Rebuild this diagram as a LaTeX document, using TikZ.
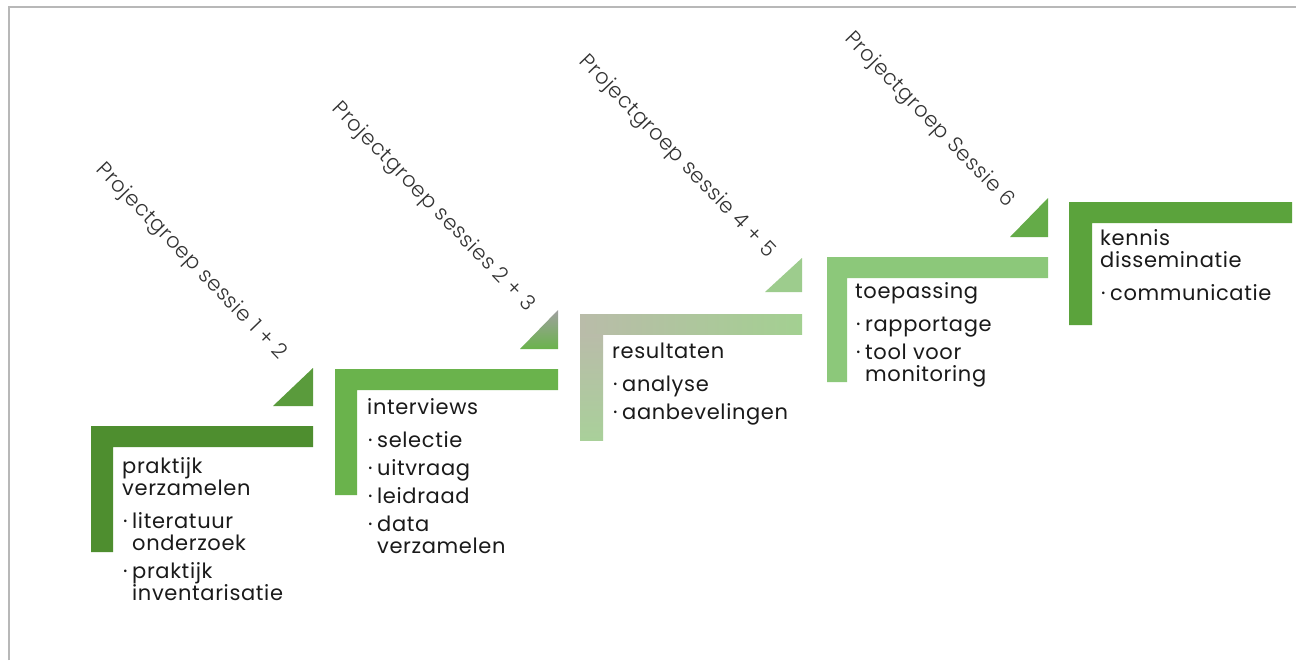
\documentclass[tikz,border=0pt]{standalone}
\usepackage{fontspec}
\setmainfont{Poppins}[LetterSpace=3]
\newfontfamily\lblfont{Poppins Light}[LetterSpace=3]
\definecolor{framegray}{HTML}{B8B8B8}
\definecolor{gA}{HTML}{4E8E2F}
\definecolor{tA}{HTML}{5A9B3C}
\definecolor{gB}{HTML}{6AB34C}
\definecolor{tBtop}{HTML}{A0A0A0}
\definecolor{gCl}{HTML}{B9BCA9}
\definecolor{gCr}{HTML}{A3D091}
\definecolor{gCv}{HTML}{A9D09A}
\definecolor{tC}{HTML}{9DCC8D}
\definecolor{gD}{HTML}{8CC87A}
\definecolor{tD}{HTML}{64AB48}
\definecolor{gE}{HTML}{5BA33C}
\definecolor{txt}{HTML}{1A1A1A}
\definecolor{lbltxt}{HTML}{333333}
\newcommand\bhead[1]{\hbox{#1}}
\newcommand\bgap{\vskip 5pt}
\newcommand\bitem[1]{\vskip 6pt\hbox{\makebox[10pt][l]{\kern1pt·}#1}}
\newcommand\bcont[1]{\hbox{\kern10pt #1}}
\tikzset{
  blocktext/.style={anchor=base west, inner sep=0pt, text=txt,
    font=\fontsize{21}{22}\selectfont},
  lbl/.style={inner sep=0pt, text=lbltxt, rotate=-46,
    font=\lblfont\fontsize{21}{22}\selectfont}
}
\begin{document}
\begin{tikzpicture}[x=1pt,y=-1pt]
\useasboundingbox (0,0) rectangle (1301,667);
\fill[white] (0,0) rectangle (1301,667);
\draw[framegray, line width=2pt] (9,660) -- (9,7) -- (1296,7);

% block 1
\fill[gA] (91,426) -- (313,426) -- (313,447) -- (113,447) -- (113,552) -- (91,552) -- cycle;
\fill[tA] (273,406) -- (313,406) -- (313,368) -- cycle;
% block 2
\fill[gB] (335,369) -- (558,369) -- (558,390) -- (357,390) -- (357,495) -- (335,495) -- cycle;
\shade[top color=tBtop, bottom color=gB] (520,349) -- (558,349) -- (558,310) -- cycle;
% block 3
\shade[left color=gCl, right color=gCr] (580,314) rectangle (802,334);
\shade[top color=gCl, bottom color=gCv] (580,334) rectangle (603,440);
\fill[tC] (765,292) -- (802,292) -- (802,258) -- cycle;
% block 4
\fill[gD] (827,257) -- (1048,257) -- (1048,278) -- (847,278) -- (847,382) -- (827,382) -- cycle;
\fill[tD] (1010,237) -- (1048,237) -- (1048,198) -- cycle;
% block 5
\fill[gE] (1069,202) -- (1292,202) -- (1292,223) -- (1092,223) -- (1092,325) -- (1069,325) -- cycle;

% texts
\node[blocktext] (b1) at (122,473) {\vtop{\bhead{praktijk}\bhead{verzamelen}\bgap
  \bitem{literatuur}\bcont{onderzoek}\bitem{praktijk}\bcont{inventarisatie}}};
\node[blocktext] (b2) at (367,414) {\vtop{\bhead{interviews}\bgap
  \bitem{selectie}\bitem{uitvraag}\bitem{leidraad}\bitem{data}\bcont{verzamelen}}};
\node[blocktext] (b3) at (612,358) {\vtop{\bhead{resultaten}\bgap
  \bitem{analyse}\bitem{aanbevelingen}}};
\node[blocktext] (b4) at (855,298) {\vtop{\bhead{toepassing}\bgap
  \bitem{rapportage}\bitem{tool voor}\bcont{monitoring}}};
\node[blocktext] (b5) at (1100,245) {\vtop{\bhead{kennis}\bhead{disseminatie}\bgap
  \bitem{communicatie}}};

% diagonal labels
\node[lbl] (s1) at (191,262) {Projectgroep sessie 1 + 2};
\node[lbl] (s2) at (433,207) {Projectgroep sessies 2 + 3};
\node[lbl] (s3) at (677,157) {Projectgroep sessie 4 + 5};
\node[lbl] (s4) at (929,120) {Projectgroep Sessie 6};
\end{tikzpicture}
\end{document}
